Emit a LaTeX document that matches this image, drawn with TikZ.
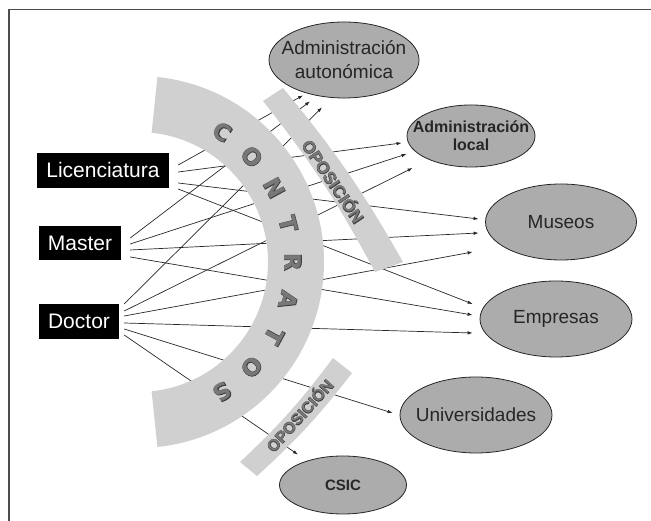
\documentclass[tikz,border=0pt]{standalone}
\usepackage{fontspec}
\setmainfont{Liberation Sans}
\newfontfamily\heavyfont{DejaVu Sans}
\newfontfamily\heavyedge{DejaVu Sans}[FakeBold=4]
\newfontfamily\bandedge{Liberation Sans}[FakeBold=4]
\usetikzlibrary{arrows.meta,shapes.geometric}

\definecolor{bandgray}{RGB}{208,208,208}
\definecolor{ovalgray}{RGB}{172,172,172}
\definecolor{linegray}{RGB}{40,40,40}
\definecolor{lettergray}{RGB}{120,120,120}
\definecolor{letteredge}{RGB}{62,62,62}

\tikzset{
  degreebox/.style={fill=black, text=white, inner sep=0pt, font=\fontsize{21}{24}\selectfont},
  goal/.style={ellipse, draw=black!85, line width=0.8pt, fill=ovalgray, inner sep=0pt},
  goaltext/.style={align=center, inner sep=0pt, text=black!85},
  link/.style={draw=linegray, line width=0.7pt, -{Latex[length=5pt,width=3.5pt]}},
  bandtext/.style={inner sep=0pt, text=lettergray}
}

\begin{document}
\begin{tikzpicture}[x=1pt,y=1pt]
  \useasboundingbox (0,0) rectangle (651,521);
  % Frame
  \draw[line width=1.6pt, black!70] (9,-10) -- (9,511.5) -- (700,511.5);

  % Degrees
  \node[degreebox, minimum width=132, minimum height=35] (lic) at (103,350.5) {Licenciatura};
  \node[degreebox, minimum width=82, minimum height=34] (mas) at (80,278) {Master};
  \node[degreebox, minimum width=80, minimum height=35] (doc) at (79,199.5) {Doctor};

  % Destinations
  \node[goal, minimum width=150, minimum height=76] (aut) at (344,461) {};
  \node[goal, minimum width=128, minimum height=62] (loc) at (471,385) {};
  \node[goal, minimum width=151, minimum height=76] (mus) at (561,299) {};
  \node[goal, minimum width=152, minimum height=76] (emp) at (556,202) {};
  \node[goal, minimum width=152, minimum height=76] (uni) at (476,106) {};
  \node[goal, minimum width=127, minimum height=58] (csic) at (343,36) {};
  \node[goaltext, font=\fontsize{19}{24}\selectfont] (aut-t) at (aut) {Administración\\autonómica};
  \node[goaltext, font=\bfseries\fontsize{16}{18}\selectfont] (loc-t) at (loc) {Administración\\local};
  \node[goaltext, font=\fontsize{19}{24}\selectfont] (mus-t) at (mus) {Museos};
  \node[goaltext, font=\fontsize{19}{24}\selectfont] (emp-t) at (emp) {Empresas};
  \node[goaltext, font=\fontsize{19}{24}\selectfont] (uni-t) at (uni) {Universidades};
  \node[goaltext, font=\bfseries\fontsize{15}{18}\selectfont] (csic-t) at (csic) {CSIC};

  % Links from Licenciatura
  \draw[link] ([xshift=9pt,yshift=5.5pt]lic.east) -- ([xshift=-41pt,yshift=3pt]aut.south);
  \draw[link] ([xshift=9pt,yshift=-1.5pt]lic.east) -- ([xshift=-5pt,yshift=-7pt]loc.west);
  \draw[link] ([xshift=9pt,yshift=-12.5pt]lic.east) -- ([xshift=-6.5pt,yshift=3pt]mus.west);
  \draw[link] ([xshift=9pt,yshift=-18.5pt]lic.east) -- ([xshift=-7pt,yshift=15pt]emp.west);

  % Links from Master
  \draw[link] ([xshift=9pt,yshift=5pt]mas.east) -- ([xshift=-34pt,yshift=-3pt]aut.south);
  \draw[link] ([xshift=9pt,yshift=-1pt]mas.east) -- ([yshift=-18pt]loc.west);
  \draw[link] ([xshift=9pt,yshift=-7pt]mas.east) -- ([xshift=-6.5pt,yshift=-11pt]mus.west);
  \draw[link] ([xshift=9pt,yshift=-14pt]mas.east) -- ([xshift=-7pt,yshift=4pt]emp.west);

  % Links from Doctor
  \draw[link] ([xshift=5pt,yshift=17.5pt]doc.east) -- ([xshift=-22pt,yshift=-9pt]aut.south);
  \draw[link] ([xshift=5pt,yshift=10.5pt]doc.east) -- ([xshift=6pt,yshift=-32pt]loc.west);
  \draw[link] ([xshift=5pt,yshift=5.5pt]doc.east) -- ([xshift=-12.5pt,yshift=-30pt]mus.west);
  \draw[link] ([xshift=5pt,yshift=-1.5pt]doc.east) -- ([xshift=-7pt,yshift=-14pt]emp.west);
  \draw[link] ([xshift=5pt,yshift=-7.5pt]doc.east) -- ([xshift=-7pt,yshift=2pt]uni.west);
  \draw[link] ([xshift=5pt,yshift=-13.5pt]doc.east) -- ([xshift=-45pt,yshift=1pt]csic.north);

  % Contratos band
  \coordinate (ctr) at (138,259);
  \fill[bandgray] ([shift={(84:186)}]ctr) arc[start angle=84, end angle=-84, radius=186]
    -- ([shift={(-84:130)}]ctr) arc[start angle=-84, end angle=84, radius=130] -- cycle;
  \foreach \ch [count=\i from 0] in {C,O,N,T,R,A,T,O,S} {
    \pgfmathsetmacro\ang{57-14.25*\i}
    \node[inner sep=0pt, rotate=\ang-90, text=letteredge, font=\heavyedge\bfseries\fontsize{23}{23}\selectfont]
      (con-e\i) at ([shift={(\ang:155)}]ctr) {\ch};
    \node[inner sep=0pt, rotate=\ang-90, text=lettergray, font=\heavyfont\bfseries\fontsize{23}{23}\selectfont]
      (con-\i) at ([shift={(\ang:155)}]ctr) {\ch};
  }

  % Oposicion bands
  \fill[bandgray] (263,420) -- (283,433) to[bend left=5] (403,259) -- (375,249)
    to[bend right=5] (263,420) -- cycle;
  \node[bandtext, rotate=-56, text=letteredge, font=\bandedge\bfseries\fontsize{17}{17}\selectfont] (opo-ue) at (334,340) {OPOSICIÓN};
  \node[bandtext, rotate=-56, font=\bfseries\fontsize{17}{17}\selectfont] (opo-up) at (334,340) {OPOSICIÓN};
  \fill[bandgray] (333,163) -- (352,148) to[bend left=5] (257,45) -- (240,59)
    to[bend right=5] (333,163) -- cycle;
  \node[bandtext, rotate=48, text=letteredge, font=\bandedge\bfseries\fontsize{16}{16}\selectfont] (opo-de) at (299,106) {OPOSICIÓN};
  \node[bandtext, rotate=48, font=\bfseries\fontsize{16}{16}\selectfont] (opo-down) at (299,106) {OPOSICIÓN};
\end{tikzpicture}
\end{document}
